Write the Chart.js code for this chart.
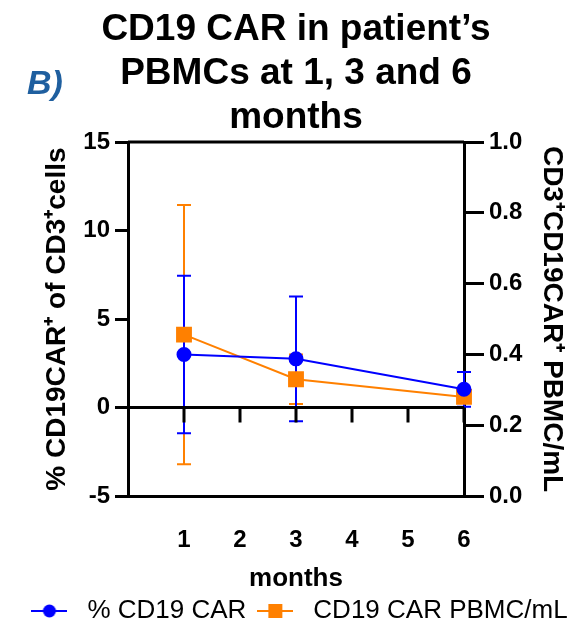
<!DOCTYPE html>
<html>
<head>
<meta charset="utf-8">
<script src="https://cdn.jsdelivr.net/npm/chart.js@4.4.1/dist/chart.umd.min.js"></script>
<style>body{margin:0;background:#fff}</style>
</head>
<body>
<canvas id="chart1" width="578" height="634"></canvas>
<script>
// values (mean +/- SD)
const months = [1, 3, 6];
const pctCar = [3.0, 2.75, 1.03];
const pctCarSd = [4.45, 3.52, 0.98];
const carPbmc = [0.456, 0.33, 0.28];
const carPbmcSd = [0.366, 0.07, 0.01];
const monthTicks = [1, 2, 3, 4, 5, 6];
const titleLines = ["CD19 CAR in patient’s", "PBMCs at 1, 3 and 6", "months"];

const blue = "#0000ff";
const orange = "#ff8000";
const fam = 'Arial, "Liberation Sans", Helvetica, sans-serif';

function legendIcon(color, shape) {
  const c = document.createElement("canvas");
  c.width = 36;
  c.height = 16;
  const g = c.getContext("2d");
  g.strokeStyle = color;
  g.fillStyle = color;
  g.lineWidth = 2;
  g.beginPath();
  g.moveTo(0, 8);
  g.lineTo(36, 8);
  g.stroke();
  if (shape === "circle") {
    g.beginPath();
    g.arc(18, 8, 6.5, 0, Math.PI * 2);
    g.fill();
  } else {
    g.fillRect(11, 1, 14, 14);
  }
  return c;
}

// error bars, drawn through the chart's own scales
const errorBars = {
  id: "errorBars",
  beforeDatasetsDraw(chart) {
    const ctx = chart.ctx;
    const xs = chart.scales.x;
    chart.data.datasets.slice().reverse().forEach(ds => {
      const ys = chart.scales[ds.yAxisID];
      ctx.save();
      ctx.strokeStyle = ds.borderColor;
      ctx.lineWidth = 2;
      ds.data.forEach((p, i) => {
        const px = xs.getPixelForValue(p.x);
        const top = ys.getPixelForValue(p.y + ds.sd[i]);
        const bot = ys.getPixelForValue(p.y - ds.sd[i]);
        ctx.beginPath();
        ctx.moveTo(px, top); ctx.lineTo(px, bot);
        ctx.moveTo(px - 7, top); ctx.lineTo(px + 7, top);
        ctx.moveTo(px - 7, bot); ctx.lineTo(px + 7, bot);
        ctx.stroke();
      });
      ctx.restore();
    });
  }
};

// top frame line, zero line with month ticks, and the panel letter
const frame = {
  id: "frame",
  beforeDatasetsDraw(chart) {
    const {ctx, chartArea} = chart;
    const xs = chart.scales.x;
    const y0 = chart.scales.y.getPixelForValue(0);
    ctx.save();
    ctx.strokeStyle = "#000";
    ctx.lineWidth = 3;
    ctx.beginPath();
    ctx.moveTo(chartArea.left, chartArea.top);
    ctx.lineTo(chartArea.right, chartArea.top);
    ctx.moveTo(chartArea.left, y0);
    ctx.lineTo(chartArea.right, y0);
    xs.ticks.forEach(t => {
      const px = xs.getPixelForValue(t.value);
      ctx.moveTo(px, y0);
      ctx.lineTo(px, y0 + 15);
    });
    ctx.stroke();
    ctx.restore();
  },
  afterDraw(chart) {
    const ctx = chart.ctx;
    ctx.save();
    ctx.fillStyle = "#1f5f9f";
    ctx.font = "italic bold 34px " + fam;
    ctx.textBaseline = "alphabetic";
    ctx.fillText("B)", 27, 94);
    ctx.restore();
  }
};

new Chart(document.getElementById("chart1"), {
  type: "line",
  data: {
    datasets: [{
      label: "% CD19 CAR",
      data: months.map((m, i) => ({x: m, y: pctCar[i]})),
      sd: pctCarSd,
      yAxisID: "y",
      borderColor: blue,
      backgroundColor: blue,
      borderWidth: 2,
      pointStyle: "circle",
      pointRadius: 6.5,
      pointHoverRadius: 6.5,
      clip: false
    }, {
      label: "CD19 CAR PBMC/mL",
      data: months.map((m, i) => ({x: m, y: carPbmc[i]})),
      sd: carPbmcSd,
      yAxisID: "y1",
      borderColor: orange,
      backgroundColor: orange,
      borderWidth: 2,
      pointStyle: "rect",
      pointRadius: 9.8,
      pointHoverRadius: 9.8,
      clip: false
    }]
  },
  options: {
    responsive: false,
    animation: false,
    layout: {padding: {left: 14, right: 0, top: 0, bottom: 0}},
    plugins: {
      title: {
        display: true,
        text: titleLines,
        color: "#000",
        font: {family: fam, size: 37, weight: "bold", lineHeight: 1.19},
        padding: {top: 8, bottom: 2}
      },
      legend: {
        position: "bottom",
        labels: {
          color: "#000",
          font: {family: fam, size: 26},
          usePointStyle: true,
          pointStyleWidth: 50,
          padding: 4,
          generateLabels: chart => chart.data.datasets.map((ds, i) => ({
            text: ds.label,
            pointStyle: legendIcon(ds.borderColor, i === 0 ? "circle" : "rect"),
            fillStyle: ds.borderColor,
            strokeStyle: ds.borderColor,
            lineWidth: 0,
            datasetIndex: i
          }))
        }
      },
      tooltip: {enabled: false}
    },
    scales: {
      x: {
        type: "linear",
        min: 0,
        max: 6,
        afterBuildTicks: s => { s.ticks = monthTicks.map(v => ({value: v})); },
        afterFit: s => { s.height = 98; },
        grid: {display: false, drawTicks: false},
        border: {display: true, color: "#000", width: 3},
        ticks: {color: "#000", font: {family: fam, size: 24, weight: "bold"}, padding: 30, maxRotation: 0},
        title: {display: true, text: "months", color: "#000",
          font: {family: fam, size: 26, weight: "bold"}, padding: {top: 8, bottom: 0}}
      },
      y: {
        position: "left",
        min: -5,
        max: 15,
        ticks: {stepSize: 5, color: "#000", font: {family: fam, size: 24, weight: "bold"}, padding: 5},
        afterFit: s => { s.width = 114; },
        grid: {drawOnChartArea: false, drawTicks: true, tickLength: 13, color: "#000", lineWidth: 3},
        border: {display: true, color: "#000", width: 3},
        title: {display: true, text: "% CD19CAR⁺ of CD3⁺cells", color: "#000",
          font: {family: fam, size: 28, weight: "bold"}, padding: {top: 26, bottom: 0}}
      },
      y1: {
        position: "right",
        min: 0,
        max: 1,
        ticks: {stepSize: 0.2, color: "#000", font: {family: fam, size: 24, weight: "bold"}, padding: 5,
          callback: v => v.toFixed(1)},
        afterFit: s => { s.width = 114; },
        grid: {drawOnChartArea: false, drawTicks: true, tickLength: 20, color: "#000", lineWidth: 3},
        border: {display: true, color: "#000", width: 3},
        title: {display: true, text: "CD3⁺CD19CAR⁺ PBMC/mL", color: "#000",
          font: {family: fam, size: 28, weight: "bold"}, padding: {top: 9, bottom: 0}}
      }
    }
  },
  plugins: [errorBars, frame]
});
</script>
</body>
</html>
